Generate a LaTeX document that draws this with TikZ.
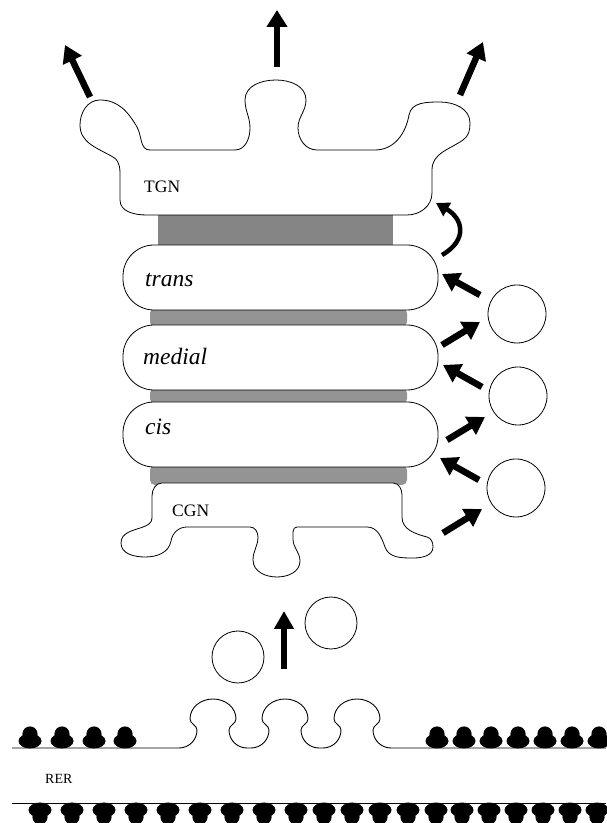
\documentclass[tikz,border=0pt]{standalone}
\usepackage{fontspec}
\setmainfont{Liberation Serif}
\usetikzlibrary{arrows.meta}
\begin{document}
\begin{tikzpicture}[x=1pt,y=1pt,
  membrane/.style={draw=black, line width=0.8pt, fill=white},
  cisterna/.style={draw=black, line width=0.8pt, fill=white, rounded corners=31pt},
  stackband/.style={fill=black!42, rounded corners=5pt},
  vesicle/.style={draw=black, line width=0.8pt, fill=white, circle, inner sep=0pt},
  flow/.style={line width=6.5pt, -{Triangle[length=17pt,width=20pt]}},
  ribosome/.style={fill=black},
  erline/.style={draw=black, line width=0.9pt},
  lab/.style={anchor=base west, inner sep=0pt},
  itlab/.style={lab, font=\fontsize{23.5}{27}\selectfont\itshape},
  uplab/.style={lab, font=\fontsize{17.5}{20}\selectfont}
]
\useasboundingbox (0,0) rectangle (606,823);

% intercisternal bands
\fill[black!48] (158,576) rectangle (393,610);
\fill[stackband] (150,496) rectangle (407,515);
\fill[stackband] (150,419) rectangle (407,435);
\fill[stackband] (150,338) rectangle (407,358);

% trans Golgi network
\draw[membrane] (147,608) -- (407,608) to[out=0,in=-90] (432,630) -- (432,653)
  to[out=90,in=215] (463,683) to[out=35,in=-90] (470,700) to[out=90,in=0] (440,721)
  to[out=180,in=80] (409,708) to[out=260,in=0] (375,673) -- (317,673)
  to[out=180,in=-90] (298,695) to[out=90,in=-90] (306,723) to[out=90,in=0] (276,743)
  to[out=180,in=90] (245,723) to[out=-90,in=90] (250,695) to[out=-90,in=0] (235,673)
  -- (150,673) to[out=180,in=-60] (137,696) to[out=120,in=0] (100,723)
  to[out=180,in=90] (80,698) to[out=-90,in=150] (113,666) to[out=-30,in=90] (120,645)
  -- (120,623) to[out=-90,in=180] (147,608) -- cycle;

% stacked cisternae
\draw[cisterna] (123,513) rectangle (438,578);
\draw[cisterna] (123,433) rectangle (438,498);
\draw[cisterna] (123,356) rectangle (438,421);

% cis Golgi network
\draw[membrane] (162,340) -- (393,340) to[out=0,in=90] (402,328) -- (402,306)
  to[out=-90,in=165] (427,286) to[out=-15,in=90] (433,276) to[out=-90,in=0] (413,265)
  to[out=180,in=-70] (385,276) to[out=110,in=0] (367,296) -- (297,296)
  to[out=180,in=90] (293,284) to[out=-90,in=90] (300,262) to[out=-90,in=0] (277,246)
  to[out=180,in=-90] (253,263) to[out=90,in=-90] (258,286) to[out=90,in=0] (250,296)
  -- (187,296) to[out=180,in=80] (171,282) to[out=-100,in=0] (145,266)
  to[out=180,in=-90] (121,280) to[out=90,in=200] (143,296) to[out=20,in=-90] (152,305)
  -- (152,327) to[out=90,in=180] (162,340) -- cycle;

% labels
\node[uplab] (tgn) at (144,630) {TGN};
\node[itlab] (trans) at (145,536) {trans};
\node[itlab] (medial) at (143,458) {medial};
\node[itlab] (cis) at (145,388) {cis};
\node[uplab] (cgn) at (172,306) {CGN};
\node[lab, font=\fontsize{14}{16}\selectfont] (rer) at (45,39) {RER};

% transport vesicles beside the stack
\node[vesicle, minimum size=58pt] (v1) at (517,509) {};
\node[vesicle, minimum size=58pt] (v2) at (518,427) {};
\node[vesicle, minimum size=58pt] (v3) at (516,335) {};

% anterograde and retrograde traffic
\coordinate (r1s) at (480,528); \coordinate (r1e) at (442,549);
\coordinate (a1s) at (442,478); \coordinate (a1e) at (480,501);
\coordinate (r2s) at (482,436); \coordinate (r2e) at (443,458);
\coordinate (a2s) at (447,383); \coordinate (a2e) at (485,406);
\coordinate (r3s) at (479,343); \coordinate (r3e) at (440,365);
\coordinate (a3s) at (443,290); \coordinate (a3e) at (482,314);
\draw[flow] (r1s) -- (r1e);
\draw[flow] (a1s) -- (a1e);
\draw[flow] (r2s) -- (r2e);
\draw[flow] (a2s) -- (a2e);
\draw[flow] (r3s) -- (r3e);
\draw[flow] (a3s) -- (a3e);

% maturation from trans cisterna into TGN
\coordinate (cms) at (442,568); \coordinate (cme) at (436,620);
\draw[line width=4.5pt, -{Triangle[length=13pt,width=15pt]}]
  (cms) to[out=30,in=-30,looseness=1.5] (cme);

% exit from the TGN
\coordinate (e1s) at (90,726);  \coordinate (e1e) at (65,778);
\coordinate (e2s) at (277,756); \coordinate (e2e) at (277,813);
\coordinate (e3s) at (460,728); \coordinate (e3e) at (483,781);
\draw[flow] (e1s) -- (e1e);
\draw[flow] (e2s) -- (e2e);
\draw[flow] (e3s) -- (e3e);

% ER-derived vesicles
\node[vesicle, minimum size=52pt] (ev1) at (238,166) {};
\node[vesicle, minimum size=52pt] (ev2) at (331,200) {};
\coordinate (ers) at (284,154); \coordinate (ere) at (284,212);
\draw[line width=6pt, -{Triangle[length=18pt,width=19pt]}] (ers) -- (ere);

% rough ER membrane with budding sites
\draw[erline] (12,75) -- (179,75)
  \foreach \c in {213,285,357} {
    -- (\c-34,75) to[out=0,in=-90] (\c-16,93) to[out=90,in=-90] (\c-23,104)
    to[out=90,in=180] (\c,124) to[out=0,in=90] (\c+23,104)
    to[out=-90,in=90] (\c+16,93) to[out=-90,in=180] (\c+34,75)
  } -- (606,75);
\draw[erline] (12,20) -- (606,20);

% ribosomes
\foreach \rx in {30,62,94,125,437,464,491,518,545,572,599} {
  \fill[ribosome] (\rx,82) ellipse [x radius=11.5, y radius=7.5];
  \fill[ribosome] (\rx,89) circle [radius=7.6];
}
\foreach \rx in {40,72,104,136,168,200,232,264,296,324,352,380,408,436,462,489,516,543,570,597} {
  \fill[ribosome] (\rx,13) ellipse [x radius=11.5, y radius=7.5];
  \fill[ribosome] (\rx,6) circle [radius=7.6];
}
\end{tikzpicture}
\end{document}
